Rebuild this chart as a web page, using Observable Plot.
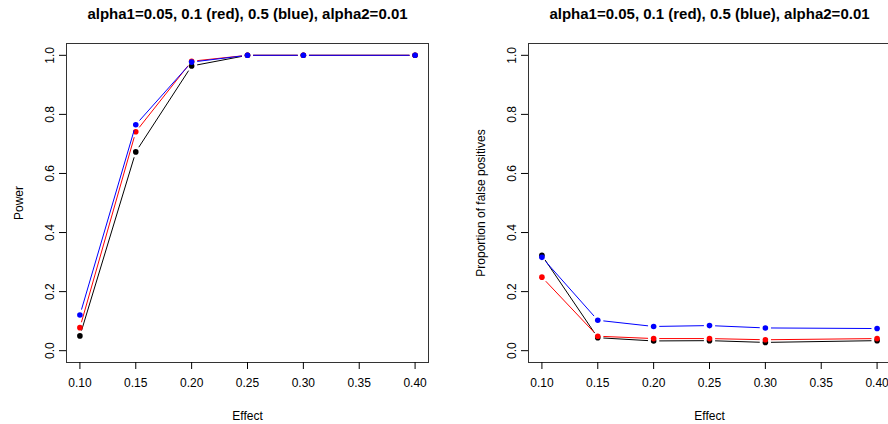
<!DOCTYPE html>
<html><head><meta charset="utf-8">
<script src="https://cdn.jsdelivr.net/npm/d3@7"></script>
<script src="https://cdn.jsdelivr.net/npm/@observablehq/plot@0.6"></script>
<style>
body{margin:0;background:#fff;}
#wrap{position:relative;width:888px;height:424px;overflow:hidden;background:#fff;}
#wrap > div{position:absolute;top:0;width:462px;height:424px;}
#wrap svg{max-width:none !important;}
</style></head><body>
<div id="wrap"><div id="p1" style="left:0"></div><div id="p2" style="left:462px"></div></div>
<script>
const effect = [0.10, 0.15, 0.20, 0.25, 0.30, 0.40];
const xTicks = [0.10, 0.15, 0.20, 0.25, 0.30, 0.35, 0.40];
const yTicks = [0.0, 0.2, 0.4, 0.6, 0.8, 1.0];
const titleText = "alpha1=0.05, 0.1 (red), 0.5 (blue), alpha2=0.01";

// Power
const powerA05 = [0.050, 0.673, 0.964, 1.000, 1.000, 1.000];
const powerA10 = [0.078, 0.741, 0.980, 1.000, 1.000, 1.000];
const powerA50 = [0.121, 0.765, 0.977, 1.000, 1.000, 1.000];
// Proportion of false positives
const fpA05 = [0.323, 0.044, 0.033, 0.034, 0.028, 0.034];
const fpA10 = [0.249, 0.049, 0.041, 0.041, 0.037, 0.041];
const fpA50 = [0.316, 0.103, 0.082, 0.085, 0.077, 0.075];

const colors = ["black", "red", "blue"];

function panel(seriesList, ylabel) {
  const marks = [
    Plot.frame({stroke: "#333"}),
    Plot.axisX({ticks: xTicks, tickFormat: d3.format(".2f"), tickSize: 7, tickPadding: 9,
      label: "Effect", labelAnchor: "center", labelArrow: "none", labelOffset: 57}),
    Plot.axisY({ticks: yTicks, tickFormat: d3.format(".1f"), tickSize: 7, tickPadding: 6, tickRotate: -90,
      label: ylabel, labelAnchor: "center", labelArrow: "none", labelOffset: 52}),
    Plot.text([titleText], {frameAnchor: "top", lineAnchor: "middle", dy: -29, fontWeight: "bold", fontSize: 15})
  ];
  seriesList.forEach((vals, k) => {
    const pts = effect.map((x, i) => ({x, y: vals[i]}));
    const segs = d3.pairs(pts).map(([a, b]) => ({x1: a.x, y1: a.y, x2: b.x, y2: b.y}));
    marks.push(Plot.arrow(segs, {x1: "x1", y1: "y1", x2: "x2", y2: "y2", stroke: colors[k], strokeWidth: 1,
      headLength: 0, insetStart: 6, insetEnd: 6}));
    marks.push(Plot.dot(pts, {x: "x", y: "y", r: 2.8, fill: colors[k], stroke: "none"}));
  });
  return Plot.plot({
    width: 462, height: 424,
    marginLeft: 66, marginRight: 34, marginTop: 43, marginBottom: 62,
    style: {fontFamily: "Arial, 'Liberation Sans', sans-serif", fontSize: "12px", background: "white", color: "black", overflow: "visible"},
    x: {domain: [0.088, 0.412]},
    y: {domain: [-0.04, 1.04]},
    marks
  });
}

document.getElementById("p1").append(panel([powerA05, powerA10, powerA50], "Power"));
document.getElementById("p2").append(panel([fpA05, fpA10, fpA50], "Proportion of false positives"));
</script>
</body></html>
